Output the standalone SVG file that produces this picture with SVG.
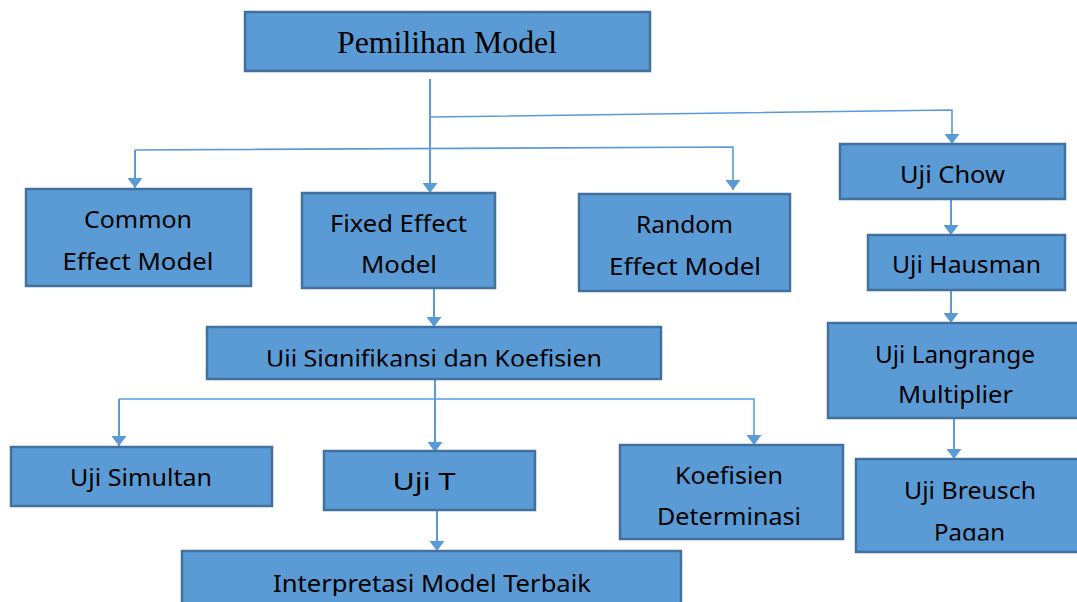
<svg xmlns="http://www.w3.org/2000/svg" width="1077" height="602" viewBox="0 0 1077 602">
<style>
.box{fill:#5B9BD5;stroke:#41719C;stroke-width:2.5}
.t{font-family:"Noto Sans","Open Sans",sans-serif;font-size:24px;fill:#000;text-anchor:middle}
.tt{font-family:"Liberation Serif","Times New Roman",serif;font-size:32px;fill:#000;text-anchor:middle}
.c{fill:none;stroke:#5B9BD5;stroke-width:2}
.cb{fill:none;stroke:#5B9BD5;stroke-width:1.6}
</style>
<defs>
<marker id="ah" markerUnits="userSpaceOnUse" markerWidth="10" markerHeight="15" refX="10" refY="7.5" orient="auto" viewBox="0 0 10 15">
<path d="M0,0 L10,7.5 L0,15 Z" fill="#5B9BD5"/>
</marker>
<clipPath id="clipSig"><rect x="200" y="320" width="470" height="46.5"/></clipPath>
<clipPath id="clipPagan"><rect x="850" y="505" width="227" height="35.5"/></clipPath>
<clipPath id="clipInt"><rect x="170" y="560" width="520" height="36"/></clipPath>
</defs>

<g id="connectors">
<path class="c" d="M430,79 V193" marker-end="url(#ah)"/>
<path class="cb" d="M431,117 L952,110 V144" marker-end="url(#ah)"/>
<path class="cb" d="M135,150 L733,147 V190" marker-end="url(#ah)"/>
<path class="c" d="M135,150 V188" marker-end="url(#ah)"/>
<path class="c" d="M434,288 V327" marker-end="url(#ah)"/>
<path class="c" d="M435,379 V452" marker-end="url(#ah)"/>
<path class="cb" d="M119,399 H754 V445" marker-end="url(#ah)"/>
<path class="c" d="M119,399 V446" marker-end="url(#ah)"/>
<path class="c" d="M437,510 V551" marker-end="url(#ah)"/>
<path class="c" d="M951,199 V235" marker-end="url(#ah)"/>
<path class="c" d="M951,290 V323" marker-end="url(#ah)"/>
<path class="c" d="M954,418 V459" marker-end="url(#ah)"/>
</g>

<g id="pemilihan-model">
<rect class="box" x="245" y="12" width="405" height="59"/>
<text class="tt" x="447" y="53" textLength="220" lengthAdjust="spacingAndGlyphs">Pemilihan Model</text>
</g>

<g id="common-effect-model">
<rect class="box" x="26" y="189" width="225" height="97"/>
<text class="t" x="138" y="228" textLength="108" lengthAdjust="spacingAndGlyphs">Common</text>
<text class="t" x="138" y="270" textLength="151" lengthAdjust="spacingAndGlyphs">Effect Model</text>
</g>

<g id="fixed-effect-model">
<rect class="box" x="302" y="193" width="193" height="95"/>
<text class="t" x="398.5" y="232" textLength="137" lengthAdjust="spacingAndGlyphs">Fixed Effect</text>
<text class="t" x="399" y="273" textLength="76" lengthAdjust="spacingAndGlyphs">Model</text>
</g>

<g id="random-effect-model">
<rect class="box" x="579" y="194" width="211" height="97"/>
<text class="t" x="684.5" y="233" textLength="97" lengthAdjust="spacingAndGlyphs">Random</text>
<text class="t" x="685" y="275" textLength="152" lengthAdjust="spacingAndGlyphs">Effect Model</text>
</g>

<g id="uji-chow">
<rect class="box" x="840" y="144" width="225" height="55"/>
<text class="t" x="952.5" y="183" textLength="105" lengthAdjust="spacingAndGlyphs">Uji Chow</text>
</g>

<g id="uji-hausman">
<rect class="box" x="868" y="235" width="197" height="55"/>
<text class="t" x="966.5" y="273" textLength="149" lengthAdjust="spacingAndGlyphs">Uji Hausman</text>
</g>

<g id="uji-langrange-multiplier">
<rect class="box" x="828" y="323" width="260" height="95"/>
<text class="t" x="955" y="363" textLength="160" lengthAdjust="spacingAndGlyphs">Uji Langrange</text>
<text class="t" x="955.5" y="403" textLength="115" lengthAdjust="spacingAndGlyphs">Multiplier</text>
</g>

<g id="uji-breusch-pagan">
<rect class="box" x="856" y="459" width="232" height="93"/>
<text class="t" x="970" y="499" textLength="132" lengthAdjust="spacingAndGlyphs">Uji Breusch</text>
<text class="t" x="969.5" y="541" textLength="71" lengthAdjust="spacingAndGlyphs" clip-path="url(#clipPagan)">Pagan</text>
</g>

<g id="uji-signifikansi">
<rect class="box" x="207" y="327" width="454" height="52"/>
<text class="t" x="434" y="367" textLength="336" lengthAdjust="spacingAndGlyphs" clip-path="url(#clipSig)">Uji Signifikansi dan Koefisien</text>
</g>

<g id="uji-simultan">
<rect class="box" x="11" y="447" width="261" height="59"/>
<text class="t" x="141" y="486" textLength="142" lengthAdjust="spacingAndGlyphs">Uji Simultan</text>
</g>

<g id="uji-t">
<rect class="box" x="324" y="451" width="211" height="59"/>
<text class="t" x="424" y="490" textLength="63" lengthAdjust="spacingAndGlyphs">Uji T</text>
</g>

<g id="koefisien-determinasi">
<rect class="box" x="620" y="445" width="223" height="94"/>
<text class="t" x="729" y="484" textLength="108" lengthAdjust="spacingAndGlyphs">Koefisien</text>
<text class="t" x="729" y="525" textLength="144" lengthAdjust="spacingAndGlyphs">Determinasi</text>
</g>

<g id="interpretasi-model-terbaik">
<rect class="box" x="182" y="551" width="499" height="60"/>
<text class="t" x="432" y="592" textLength="318" lengthAdjust="spacingAndGlyphs" clip-path="url(#clipInt)">Interpretasi Model Terbaik</text>
</g>
</svg>
